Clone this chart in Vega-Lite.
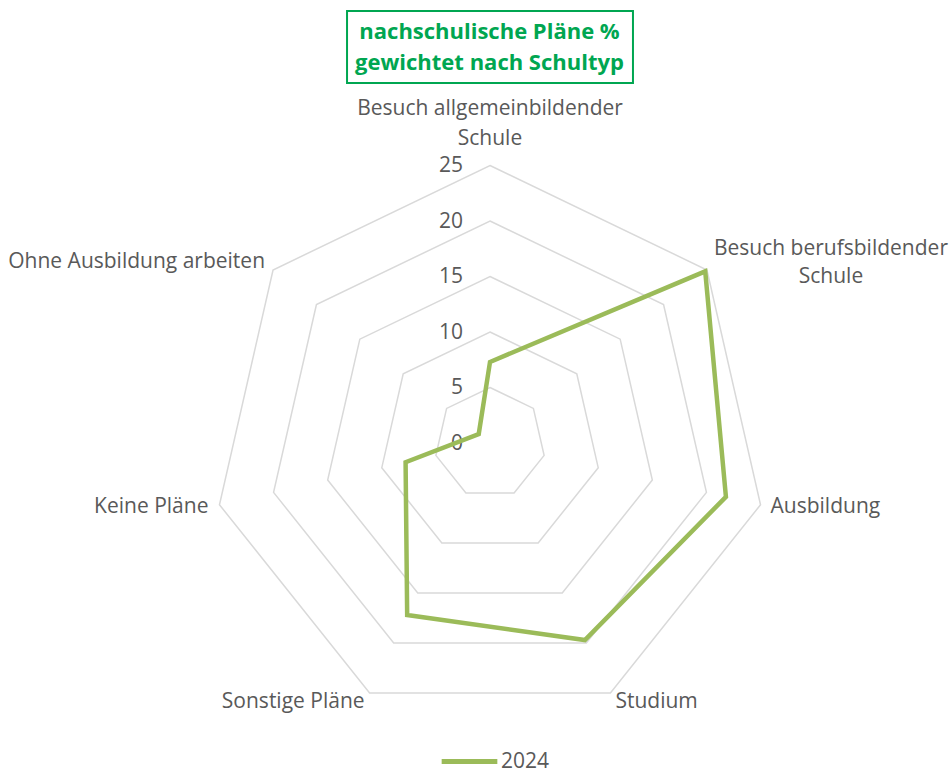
{
  "$schema": "https://vega.github.io/schema/vega-lite/v6.json",
  "width": 949,
  "height": 771,
  "autosize": {"type": "none"},
  "padding": 0,
  "background": "white",
  "config": {"view": {"stroke": null}, "font": "Open Sans"},
  "title": {
    "text": ["nachschulische Pläne %", "gewichtet nach Schultyp"],
    "fontSize": 22,
    "fontWeight": "bold",
    "color": "#00A651",
    "anchor": "middle",
    "frame": "group",
    "dx": 15,
    "offset": -75,
    "lineHeight": 31
  },
  "datasets": {
    "plans": [
      {"category": "Besuch allgemeinbildender Schule", "label": "Besuch allgemeinbildender\nSchule", "k": 0, "value": 7.3, "series": "2024"},
      {"category": "Besuch berufsbildender Schule", "label": "Besuch berufsbildender\nSchule", "k": 1, "value": 24.8, "series": "2024"},
      {"category": "Ausbildung", "label": "Ausbildung", "k": 2, "value": 21.8, "series": "2024"},
      {"category": "Studium", "label": "Studium", "k": 3, "value": 19.7, "series": "2024"},
      {"category": "Sonstige Pläne", "label": "Sonstige Pläne", "k": 4, "value": 17.2, "series": "2024"},
      {"category": "Keine Pläne", "label": "Keine Pläne", "k": 5, "value": 7.8, "series": "2024"},
      {"category": "Ohne Ausbildung arbeiten", "label": "Ohne Ausbildung arbeiten", "k": 6, "value": 1.3, "series": "2024"}
    ],
    "rings": [
      {"ring": 5, "k": [0, 1, 2, 3, 4, 5, 6]},
      {"ring": 10, "k": [0, 1, 2, 3, 4, 5, 6]},
      {"ring": 15, "k": [0, 1, 2, 3, 4, 5, 6]},
      {"ring": 20, "k": [0, 1, 2, 3, 4, 5, 6]},
      {"ring": 25, "k": [0, 1, 2, 3, 4, 5, 6]}
    ],
    "ticks": [{"tick": 0}, {"tick": 5}, {"tick": 10}, {"tick": 15}, {"tick": 20}, {"tick": 25}]
  },
  "layer": [
    {
      "data": {"name": "rings"},
      "transform": [
        {"flatten": ["k"]},
        {"calculate": "datum.ring * sin(datum.k * 2 * PI / 7)", "as": "px"},
        {"calculate": "datum.ring * cos(datum.k * 2 * PI / 7)", "as": "py"}
      ],
      "mark": {"type": "line", "interpolate": "linear-closed", "color": "#D9D9D9", "strokeWidth": 1.5},
      "encoding": {
        "x": {"field": "px", "type": "quantitative", "axis": null, "scale": {"domain": [-44.144, 41.351], "nice": false, "zero": false}},
        "y": {"field": "py", "type": "quantitative", "axis": null, "scale": {"domain": [-29.55, 39.91], "nice": false, "zero": false}},
        "detail": {"field": "ring"},
        "order": {"field": "k", "type": "quantitative"}
      }
    },
    {
      "data": {"values": [{"box": "title"}]},
      "mark": {"type": "rect", "fill": "transparent", "stroke": "#00A651", "strokeWidth": 2},
      "encoding": {
        "x": {"datum": -12.88},
        "x2": {"datum": 12.88},
        "y": {"datum": 38.92},
        "y2": {"datum": 32.43}
      }
    },
    {
      "data": {"name": "ticks"},
      "transform": [
        {"calculate": "0", "as": "px"},
        {"calculate": "datum.tick", "as": "py"}
      ],
      "mark": {"type": "text", "align": "right", "baseline": "middle", "dx": -27, "dy": 1, "fontSize": 21, "color": "#595959"},
      "encoding": {
        "x": {"field": "px", "type": "quantitative"},
        "y": {"field": "py", "type": "quantitative"},
        "text": {"field": "tick", "type": "quantitative"}
      }
    },
    {
      "data": {"name": "plans"},
      "transform": [
        {"calculate": "datum.value * sin(datum.k * 2 * PI / 7)", "as": "px"},
        {"calculate": "datum.value * cos(datum.k * 2 * PI / 7)", "as": "py"}
      ],
      "mark": {"type": "line", "interpolate": "linear-closed", "strokeWidth": 4.5},
      "encoding": {
        "x": {"field": "px", "type": "quantitative"},
        "y": {"field": "py", "type": "quantitative"},
        "order": {"field": "k", "type": "quantitative"},
        "color": {
          "field": "series", "type": "nominal",
          "scale": {"range": ["#9BBB59"]},
          "legend": {
            "title": null, "orient": "none", "legendX": 439, "legendY": 731,
            "symbolType": "stroke", "symbolSize": 3100, "symbolStrokeWidth": 5,
            "labelOffset": 1,
            "labelFontSize": 21, "labelColor": "#595959", "labelFont": "Open Sans"
          }
        }
      }
    },
    {
      "data": {"name": "plans"},
      "transform": [
        {"filter": "datum.k == 0"},
        {"calculate": "25 * sin(datum.k * 2 * PI / 7)", "as": "px"},
        {"calculate": "25 * cos(datum.k * 2 * PI / 7)", "as": "py"}
      ],
      "mark": {"type": "text", "align": "center", "baseline": "alphabetic", "dy": -50, "lineHeight": 30, "lineBreak": "\n", "fontSize": 21, "color": "#595959"},
      "encoding": {"x": {"field": "px", "type": "quantitative"}, "y": {"field": "py", "type": "quantitative"}, "text": {"field": "label"}}
    },
    {
      "data": {"name": "plans"},
      "transform": [
        {"filter": "datum.k == 1"},
        {"calculate": "25 * sin(datum.k * 2 * PI / 7)", "as": "px"},
        {"calculate": "25 * cos(datum.k * 2 * PI / 7)", "as": "py"}
      ],
      "mark": {"type": "text", "align": "center", "baseline": "alphabetic", "dx": 124, "dy": -15, "lineHeight": 28, "lineBreak": "\n", "fontSize": 21, "color": "#595959"},
      "encoding": {"x": {"field": "px", "type": "quantitative"}, "y": {"field": "py", "type": "quantitative"}, "text": {"field": "label"}}
    },
    {
      "data": {"name": "plans"},
      "transform": [
        {"filter": "datum.k == 2"},
        {"calculate": "25 * sin(datum.k * 2 * PI / 7)", "as": "px"},
        {"calculate": "25 * cos(datum.k * 2 * PI / 7)", "as": "py"}
      ],
      "mark": {"type": "text", "align": "left", "baseline": "alphabetic", "dx": 10, "dy": 8, "fontSize": 21, "color": "#595959"},
      "encoding": {"x": {"field": "px", "type": "quantitative"}, "y": {"field": "py", "type": "quantitative"}, "text": {"field": "label"}}
    },
    {
      "data": {"name": "plans"},
      "transform": [
        {"filter": "datum.k == 3"},
        {"calculate": "25 * sin(datum.k * 2 * PI / 7)", "as": "px"},
        {"calculate": "25 * cos(datum.k * 2 * PI / 7)", "as": "py"}
      ],
      "mark": {"type": "text", "align": "left", "baseline": "alphabetic", "dx": 5, "dy": 15, "fontSize": 21, "color": "#595959"},
      "encoding": {"x": {"field": "px", "type": "quantitative"}, "y": {"field": "py", "type": "quantitative"}, "text": {"field": "label"}}
    },
    {
      "data": {"name": "plans"},
      "transform": [
        {"filter": "datum.k == 4"},
        {"calculate": "25 * sin(datum.k * 2 * PI / 7)", "as": "px"},
        {"calculate": "25 * cos(datum.k * 2 * PI / 7)", "as": "py"}
      ],
      "mark": {"type": "text", "align": "right", "baseline": "alphabetic", "dx": -5, "dy": 15, "fontSize": 21, "color": "#595959"},
      "encoding": {"x": {"field": "px", "type": "quantitative"}, "y": {"field": "py", "type": "quantitative"}, "text": {"field": "label"}}
    },
    {
      "data": {"name": "plans"},
      "transform": [
        {"filter": "datum.k == 5"},
        {"calculate": "25 * sin(datum.k * 2 * PI / 7)", "as": "px"},
        {"calculate": "25 * cos(datum.k * 2 * PI / 7)", "as": "py"}
      ],
      "mark": {"type": "text", "align": "right", "baseline": "alphabetic", "dx": -11, "dy": 8, "fontSize": 21, "color": "#595959"},
      "encoding": {"x": {"field": "px", "type": "quantitative"}, "y": {"field": "py", "type": "quantitative"}, "text": {"field": "label"}}
    },
    {
      "data": {"name": "plans"},
      "transform": [
        {"filter": "datum.k == 6"},
        {"calculate": "25 * sin(datum.k * 2 * PI / 7)", "as": "px"},
        {"calculate": "25 * cos(datum.k * 2 * PI / 7)", "as": "py"}
      ],
      "mark": {"type": "text", "align": "right", "baseline": "alphabetic", "dx": -8, "dy": -2, "fontSize": 21, "color": "#595959"},
      "encoding": {"x": {"field": "px", "type": "quantitative"}, "y": {"field": "py", "type": "quantitative"}, "text": {"field": "label"}}
    }
  ]
}
